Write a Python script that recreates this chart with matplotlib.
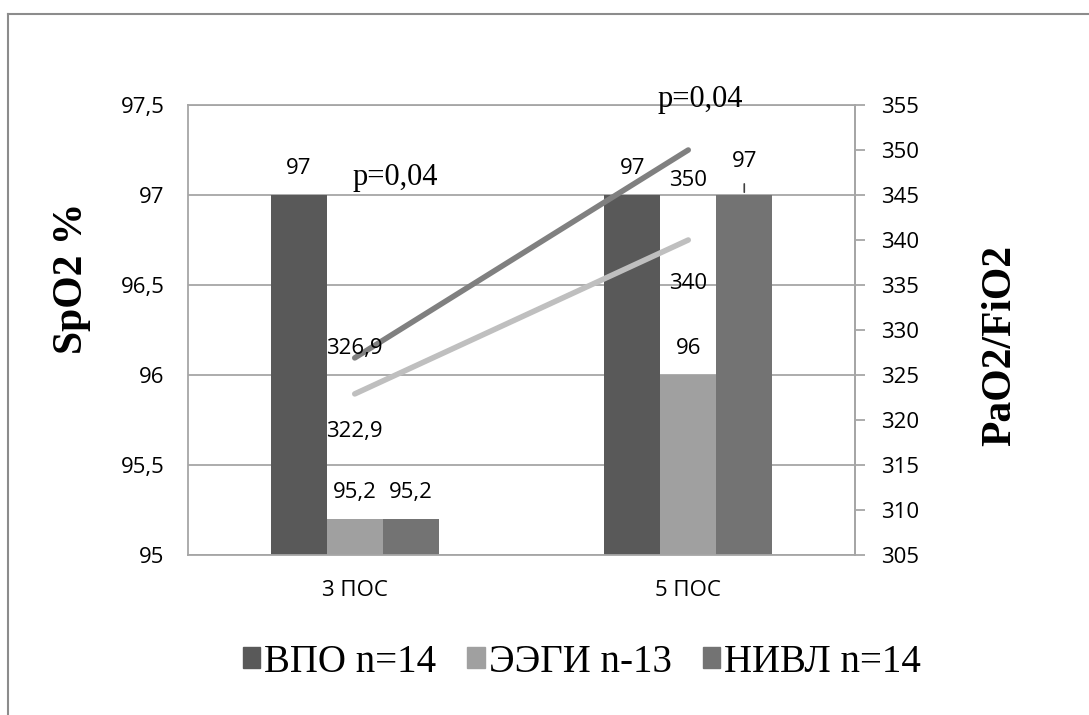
import numpy as np
import matplotlib
matplotlib.use("Agg")
import matplotlib.pyplot as plt
from matplotlib.lines import Line2D

# data
categories = ["3 ПОС", "5 ПОС"]
series_names = ["ВПО n=14", "ЭЭГИ n-13", "НИВЛ n=14"]
spo2_vpo = [97, 97]
spo2_eegi = [95.2, 96]
spo2_nivl = [95.2, 97]
pf_upper = [326.9, 350]   # PaO2/FiO2, darker line
pf_lower = [322.9, 340]   # PaO2/FiO2, lighter line
p_labels = ["p=0,04", "p=0,04"]

bar_colors = ["#595959", "#a0a0a0", "#737373"]
line_colors = ["#808080", "#bfbfbf"]
grid_col = "#a6a6a6"
tick_font = "Open Sans"
serif = "Liberation Serif"

fig = plt.figure(figsize=(10.89, 7.15), dpi=100)
ax = fig.add_axes([188 / 1089, 1 - 555 / 715, 667 / 1089, 450 / 715])
ax2 = ax.twinx()

x = np.arange(len(categories))
w = 0.168
bar_sets = [spo2_vpo, spo2_eegi, spo2_nivl]
for i, vals in enumerate(bar_sets):
    ax.bar(x + (i - 1) * w, np.array(vals) - 95, width=w, bottom=95,
           color=bar_colors[i], zorder=2, label=series_names[i])

ax.set_ylim(95, 97.5)
ax.set_xlim(-0.5, 1.5)
ax.set_yticks(np.arange(95, 97.51, 0.5))
ax.set_yticklabels([f"{v:g}".replace(".", ",") for v in np.arange(95, 97.51, 0.5)],
                   fontsize=16, family=tick_font)
ax.set_xticks(x)
ax.set_xticklabels(categories, fontsize=16, family=tick_font)
ax.tick_params(axis="y", length=0, pad=17)
ax.tick_params(axis="x", length=0, pad=18)
ax.yaxis.grid(True, color=grid_col, lw=1.3, zorder=0)
ax.set_axisbelow(True)
for s in ax.spines.values():
    s.set_color(grid_col)
    s.set_linewidth(1.3)

# bar value labels
for i, vals in enumerate(bar_sets):
    for j, v in enumerate(vals):
        dy = 19
        if i == 2 and j == 1:
            dy = 24
        ax.annotate(f"{v:g}".replace(".", ","), (x[j] + (i - 1) * w, v),
                    xytext=(0, dy), textcoords="offset points",
                    ha="center", va="center", fontsize=16, family=tick_font)
# leader line for the last label
ax.annotate("", (x[1] + w, spo2_nivl[1]), xytext=(0, 10), textcoords="offset points",
            arrowprops=dict(arrowstyle="-", color="#404040", lw=1.2))

# lines on the right axis
ax2.plot(x, pf_upper, color=line_colors[0], lw=4, solid_capstyle="round", zorder=3)
ax2.plot(x, pf_lower, color=line_colors[1], lw=4, solid_capstyle="round", zorder=3)
ax2.set_ylim(305, 355)
ax2.set_yticks(np.arange(305, 356, 5))
ax2.set_yticklabels([str(v) for v in range(305, 356, 5)], fontsize=16, family=tick_font)
ax2.tick_params(axis="y", length=7, width=1.3, color=grid_col, pad=12)
for s in ax2.spines.values():
    s.set_visible(False)
ax2.spines["right"].set_visible(True)
ax2.spines["right"].set_color(grid_col)
ax2.spines["right"].set_linewidth(1.3)

line_offsets = [[7, -22], [-27, -31]]  # points, upper then lower series
for j in range(2):
    ax2.annotate(f"{pf_upper[j]:g}".replace(".", ","), (x[j], pf_upper[j]),
                 xytext=(0, line_offsets[0][j]), textcoords="offset points",
                 ha="center", va="center", fontsize=16, family=tick_font)
    ax2.annotate(f"{pf_lower[j]:g}".replace(".", ","), (x[j], pf_lower[j]),
                 xytext=(0, line_offsets[1][j]), textcoords="offset points",
                 ha="center", va="center", fontsize=16, family=tick_font)

# p-values
ax.text(207 / 667, 1 - 73 / 450, p_labels[0], transform=ax.transAxes,
        ha="center", va="center", fontsize=22, family=serif)
ax.text(512 / 667, 1 + 5 / 450, p_labels[1], transform=ax.transAxes,
        ha="center", va="center", fontsize=22, family=serif)

# axis titles
fig.text(72 / 1089, 1 - 278 / 715, "SpO2 %", rotation=90, ha="center", va="center",
         fontsize=30, fontweight="bold", family=serif)
fig.text(1000 / 1089, 1 - 345 / 715, "PaO2/FiO2", rotation=90, ha="center", va="center",
         fontsize=30, fontweight="bold", family=serif)

# legend
handles = [plt.Rectangle((0, 0), 1, 1, color=c) for c in bar_colors]
fig.legend(handles, series_names, loc="center", bbox_to_anchor=(582 / 1089, 1 - 662 / 715),
           ncol=3, frameon=False, prop={"family": serif, "size": 28},
           handlelength=0.45, handleheight=0.45, handletextpad=0.1, columnspacing=0.8)

# outer chart frame (right and bottom edges fall outside the picture)
fx = 8 / 1089
fy = 1 - 14 / 715
fig.add_artist(Line2D([fx, 1.0], [fy, fy], transform=fig.transFigure, color="#8c8c8c", lw=1.5))
fig.add_artist(Line2D([fx, fx], [0, fy], transform=fig.transFigure, color="#8c8c8c", lw=1.5))

fig.savefig("out.png", dpi=100)
